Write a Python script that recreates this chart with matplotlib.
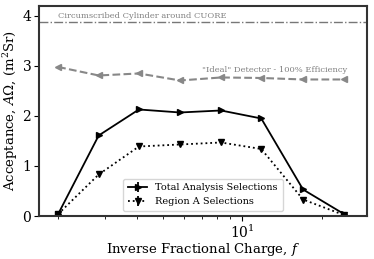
import matplotlib
matplotlib.use("Agg")
import matplotlib.pyplot as plt

plt.rcParams['font.family'] = ['DejaVu Serif']
plt.rcParams['mathtext.fontset'] = 'dejavuserif'

# inverse fractional charge values
f_vals = [2.0, 2.85, 4.05, 5.8, 8.3, 11.8, 17.0, 24.3]

# acceptance values
total_sel = [0.04, 1.61, 2.13, 2.07, 2.11, 1.95, 0.53, 0.04]
region_a = [0.04, 0.83, 1.39, 1.43, 1.47, 1.34, 0.33, 0.02]
ideal = [2.98, 2.81, 2.85, 2.71, 2.77, 2.76, 2.73, 2.73]
total_err = [0.03] * 8
region_err = [0.03] * 8
cylinder = 3.88

fig = plt.figure(figsize=(3.74, 2.59), dpi=100)
ax = fig.add_axes([0.104, 0.166, 0.877, 0.811])

ax.axhline(cylinder, color='#777777', ls='-.', lw=1.0)
ax.text(2.0, cylinder + 0.03, "Circumscribed Cylinder around CUORE",
        color='#808080', fontsize=6.0, va='bottom', ha='left')

ax.plot(f_vals, ideal, color='#888888', ls='--', lw=1.5, marker='<', ms=5)
ax.text(25.0, 2.84, '"Ideal" Detector - 100% Efficiency',
        color='#808080', fontsize=6.0, va='bottom', ha='right')

ax.errorbar(f_vals, total_sel, yerr=total_err, color='black', ls='-', lw=1.3,
            marker='>', ms=5, label='Total Analysis Selections')
ax.errorbar(f_vals, region_a, yerr=region_err, color='black', ls=':', lw=1.3,
            marker='v', ms=5, label='Region A Selections')

ax.set_xscale('log')
ax.set_xlim(1.69, 29.7)
ax.set_ylim(0, 4.2)
ax.set_yticks([0, 1, 2, 3, 4])
ax.tick_params(labelsize=10, pad=2)

for s in ax.spines.values():
    s.set_linewidth(1.5)
    s.set_color('#333333')

ax.set_xlabel("Inverse Fractional Charge, $f$", fontsize=9.5, labelpad=0)
ax.set_ylabel(r"Acceptance, $A\Omega$, (m$^2$Sr)", fontsize=9.5, labelpad=2)

ax.legend(loc='lower center', bbox_to_anchor=(0.5, 0.0), fontsize=7,
          frameon=True, borderpad=0.5, handlelength=2.0)

fig.savefig("out.png", dpi=100)
